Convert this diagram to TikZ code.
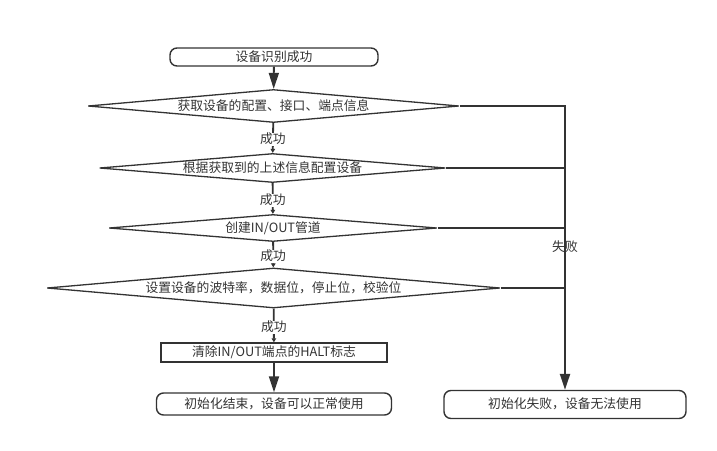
\documentclass[tikz,border=0pt]{standalone}
\usepackage{fontspec}
\setmainfont{Noto Sans CJK SC}
\usetikzlibrary{shapes.geometric,arrows.meta}
\definecolor{ln}{HTML}{333333}
\begin{document}
\begin{tikzpicture}[x=1pt,y=-1pt,
  font=\fontsize{12.8}{14}\selectfont,
  every node/.style={text=ln, text height=10pt, text depth=2pt},
  term/.style={draw=ln, line width=1.4pt, rounded corners=7pt, inner sep=0pt},
  procbox/.style={draw=ln, line width=1.4pt, inner sep=0pt},
  decision/.style={diamond, draw=ln, line width=1.3pt, inner sep=0pt, shape aspect=12},
  conn/.style={draw=ln, line width=1.8pt},
  bigarrow/.style={conn, -{Triangle[length=16pt,width=10pt]}},
  smallarrow/.style={conn, -{Triangle[length=4pt,width=4.5pt]}},
  oklabel/.style={fill=white, inner sep=0.5pt}
]
\useasboundingbox (0,0) rectangle (717,450);

\node[term, minimum width=208pt, minimum height=18pt] (start) at (274,57) {设备识别成功};
\node[decision, minimum width=371pt, minimum height=33pt] (d1) at (273.5,106) {获取设备的配置、接口、端点信息};
\node[decision, minimum width=346pt, minimum height=29pt] (d2) at (272.5,168) {根据获取到的上述信息配置设备};
\node[decision, minimum width=328pt, minimum height=27pt] (d3) at (273,228) {创建IN/OUT管道};
\node[decision, minimum width=453pt, minimum height=40pt] (d4) at (273.5,288) {设置设备的波特率，数据位，停止位，校验位};
\node[procbox, minimum width=226pt, minimum height=19pt] (clr) at (274,352.5) {清除IN/OUT端点的HALT标志};
\node[term, minimum width=235pt, minimum height=22pt] (ok) at (274,404) {初始化结束，设备可以正常使用};
\node[term, minimum width=242pt, minimum height=28pt] (fail) at (565,404.5) {初始化失败，设备无法使用};

\draw[bigarrow] (start) -- (d1);
\draw[smallarrow] (d1) -- node[oklabel, pos=0.55] (s1) {成功} (d2);
\draw[smallarrow] (d2) -- node[oklabel, pos=0.55] (s2) {成功} (d3);
\draw[smallarrow] (d3) -- node[oklabel, pos=0.55] (s3) {成功} (d4);
\draw[smallarrow] (d4) -- node[oklabel, pos=0.55] (s4) {成功} (clr);
\draw[bigarrow] (clr) -- (ok);

\draw[bigarrow, line width=2.2pt] (d1.east) -| (fail.north);
\draw[conn] (d2.east) -- (d2.east -| fail.north);
\draw[conn] (d3.east) -- (d3.east -| fail.north);
\draw[conn] (d4.east) -- (d4.east -| fail.north);
\node (ftxt) at (565,247) {失败};
\end{tikzpicture}
\end{document}
